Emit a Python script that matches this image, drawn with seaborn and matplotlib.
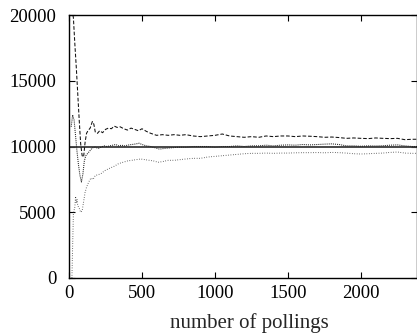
import matplotlib
matplotlib.use('Agg')
import matplotlib.pyplot as plt
import seaborn as sns

# upper curve (dashed)
x_dash = [20, 30, 40, 50, 60, 70, 80, 90, 100, 110, 120, 130, 145, 160, 170, 180, 195, 210,
          230, 250, 270, 290, 310, 330, 350, 375, 400, 425, 450, 475, 500, 530, 560, 600,
          640, 680, 720, 760, 800, 850, 900, 950, 1000, 1050, 1100, 1150, 1200, 1250, 1300,
          1350, 1400, 1450, 1500, 1550, 1600, 1650, 1700, 1750, 1800, 1850, 1900, 1950, 2000,
          2050, 2100, 2150, 2200, 2250, 2300, 2350, 2400]
y_dash = [20400, 19800, 17800, 16000, 14000, 12000, 10200, 9300, 9200, 10300, 11000, 11200,
          11400, 11900, 11700, 11100, 11000, 11200, 11050, 11300, 11400, 11350, 11550, 11450,
          11500, 11350, 11250, 11400, 11300, 11200, 11350, 11150, 11000, 10850, 10900, 10850,
          10900, 10850, 10900, 10800, 10750, 10800, 10850, 10950, 10800, 10750, 10700, 10750,
          10700, 10800, 10750, 10800, 10800, 10750, 10800, 10780, 10750, 10700, 10720, 10680,
          10620, 10650, 10620, 10600, 10650, 10620, 10600, 10620, 10520, 10550, 10550]

# middle curve (dense dots)
x_mid = [15, 25, 35, 45, 55, 65, 75, 85, 95, 105, 115, 130, 145, 160, 180, 200, 220, 240, 260,
         280, 300, 320, 340, 360, 380, 400, 430, 460, 480, 500, 530, 560, 590, 620, 650, 700,
         750, 800, 850, 900, 950, 1000, 1050, 1100, 1150, 1200, 1250, 1300, 1350, 1400, 1450,
         1500, 1550, 1600, 1650, 1700, 1750, 1800, 1850, 1900, 1950, 2000, 2050, 2100, 2150,
         2200, 2250, 2300, 2350, 2400]
y_mid = [11500, 12400, 12000, 10800, 9600, 8600, 7800, 7300, 7900, 8900, 9300, 9500, 9700,
         9900, 9950, 9850, 9950, 10050, 10000, 10050, 10100, 10150, 10050, 10100, 10050, 10100,
         10150, 10200, 10250, 10150, 10050, 10000, 9900, 9800, 9850, 9900, 9950, 9950, 10000,
         10000, 10000, 9950, 10000, 10000, 10050, 10000, 10050, 10050, 10100, 10050, 10100,
         10120, 10100, 10150, 10120, 10150, 10180, 10200, 10150, 10050, 10050, 10020, 10050,
         10040, 10060, 10100, 10120, 10050, 10000, 10000]

# lower curve (sparse dots)
x_low = [20, 25, 30, 40, 45, 50, 55, 60, 70, 80, 90, 100, 110, 120, 135, 150, 165, 180, 200,
         220, 250, 280, 310, 340, 370, 400, 430, 460, 490, 520, 550, 580, 610, 640, 680, 720,
         760, 800, 850, 900, 950, 1000, 1050, 1100, 1150, 1200, 1250, 1300, 1350, 1400, 1450,
         1500, 1550, 1600, 1650, 1700, 1750, 1800, 1850, 1900, 1950, 2000, 2050, 2100, 2150,
         2200, 2250, 2300, 2350, 2400]
y_low = [0, 2500, 4900, 5400, 6200, 5700, 6000, 5500, 5300, 5000, 5100, 5800, 6500, 6900,
         7300, 7600, 7500, 7800, 7850, 7950, 8200, 8350, 8500, 8700, 8800, 8900, 8950, 9000,
         9050, 9000, 8950, 8900, 8800, 8850, 8950, 8950, 9000, 9050, 9100, 9100, 9200, 9250,
         9300, 9350, 9400, 9450, 9480, 9480, 9500, 9480, 9500, 9500, 9520, 9530, 9530, 9540,
         9520, 9550, 9530, 9500, 9450, 9430, 9450, 9480, 9500, 9550, 9580, 9500, 9480, 9480]

target = 10000
xticks = [0, 500, 1000, 1500, 2000]
yticks = [0, 5000, 10000, 15000, 20000]

sns.set_style('ticks')
plt.rcParams['font.family'] = ['Liberation Serif', 'DejaVu Serif']

fig = plt.figure(figsize=(4.17, 3.36), dpi=100)
ax = fig.add_axes([69 / 417, 1 - 278 / 336, 347.5 / 417, 263 / 336])

ax.axhline(target, color='#3a3a3a', lw=1.3, zorder=1)
sns.lineplot(x=x_dash, y=y_dash, ax=ax, color='#111111', lw=0.75, linestyle=(0, (3.5, 1.8)))
sns.lineplot(x=x_mid, y=y_mid, ax=ax, color='#222222', lw=0.75, linestyle=(0, (1, 1)))
sns.lineplot(x=x_low, y=y_low, ax=ax, color='#333333', lw=0.7, linestyle=(0, (0.7, 1.8)))

ax.set_xlim(0, 2380)
ax.set_ylim(0, 20000)
ax.set_xticks(xticks)
ax.set_yticks(yticks)
ax.tick_params(direction='in', length=4, width=0.8, top=True, right=True,
               labelsize=13.5, colors='black')
ax.tick_params(axis='y', pad=9)
ax.tick_params(axis='x', pad=5)
for s in ax.spines.values():
    s.set_linewidth(1.0)
    s.set_color('black')
ax.set_xlabel('number of pollings', fontsize=15)
ax.xaxis.set_label_coords(0.52, -0.135)
ax.set_ylabel('')

fig.savefig('out.png', dpi=100)
